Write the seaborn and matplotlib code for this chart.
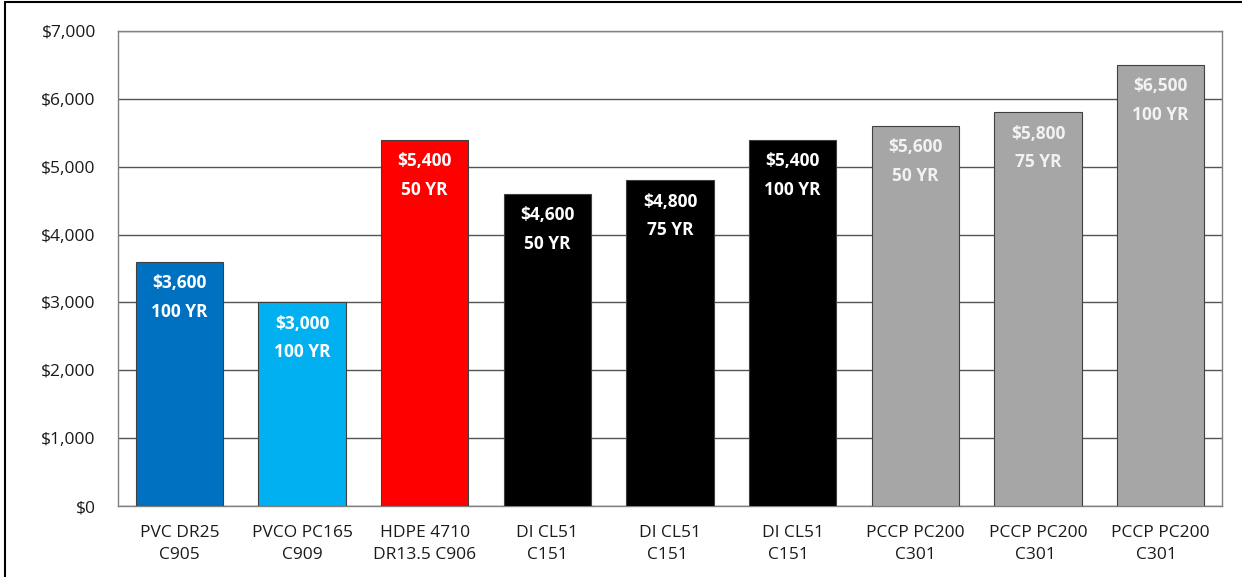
import matplotlib
matplotlib.use("Agg")
import matplotlib.pyplot as plt
import seaborn as sns
import pandas as pd
from matplotlib.lines import Line2D

categories = ["PVC DR25\nC905", "PVCO PC165\nC909", "HDPE 4710\nDR13.5 C906",
              "DI CL51\nC151", "DI CL51\nC151 ", "DI CL51\nC151  ",
              "PCCP PC200\nC301", "PCCP PC200\nC301 ", "PCCP PC200\nC301  "]
costs = [3600, 3000, 5400, 4600, 4800, 5400, 5600, 5800, 6500]
life = ["100 YR", "100 YR", "50 YR", "50 YR", "75 YR", "100 YR", "50 YR", "75 YR", "100 YR"]
colors = ["#0070C0", "#00B0F0", "#FF0000", "#000000", "#000000", "#000000",
          "#A6A6A6", "#A6A6A6", "#A6A6A6"]
label_colors = ["white"] * 6 + ["#F2F2F2"] * 3
yticks = [0, 1000, 2000, 3000, 4000, 5000, 6000, 7000]

sns.set_theme(style="white")
plt.rcParams["font.family"] = ["Open Sans", "DejaVu Sans"]

df = pd.DataFrame({"cat": categories, "cost": costs})

fig = plt.figure(figsize=(12.42, 5.77), dpi=100)
ax = fig.add_axes([118/1242, 1 - 506/577, (1222-118)/1242, (506-31)/577])

sns.barplot(data=df, x="cat", y="cost", hue="cat", palette=colors, legend=False,
            width=0.71, edgecolor="#404040", linewidth=0.8, saturation=1, ax=ax, zorder=3)

ax.set_ylim(0, 7000)
ax.set_yticks(yticks)
ax.set_yticklabels([f"${v:,}" for v in yticks], fontsize=12.5, color="#1a1a1a")
ax.tick_params(axis="x", labelsize=12.5, colors="#1a1a1a", pad=14, length=0)
for t in ax.get_xticklabels():
    t.set_linespacing(1.45)
ax.tick_params(axis="y", pad=16, length=0)
ax.set_xlabel("")
ax.set_ylabel("")
ax.yaxis.grid(True, color="#555555", linewidth=1.0, zorder=0)
ax.set_axisbelow(True)
for s in ax.spines.values():
    s.set_color("#808080")
    s.set_linewidth(1.0)

for i, (c, l) in enumerate(zip(costs, life)):
    ax.annotate(f"${c:,}\n{l}", xy=(i, c), xytext=(0, -9), textcoords="offset points",
                ha="center", va="top", fontsize=12.5, fontweight="bold",
                color=label_colors[i], linespacing=1.75, zorder=5)

# outer border (top and left)
fig.add_artist(Line2D([5/1242, 1], [1 - 2/577, 1 - 2/577], transform=fig.transFigure,
                      color="black", linewidth=1.5))
fig.add_artist(Line2D([5/1242, 5/1242], [0, 1 - 2/577], transform=fig.transFigure,
                      color="black", linewidth=1.5))

fig.savefig("out.png", dpi=100)
